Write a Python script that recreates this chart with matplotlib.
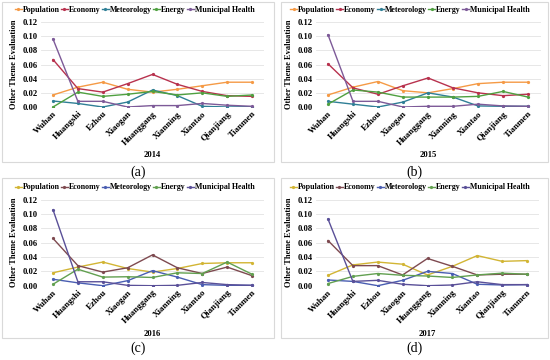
import matplotlib
matplotlib.use("Agg")
import matplotlib.pyplot as plt
from matplotlib.patches import Rectangle

cities = ["Wuhan", "Huangshi", "Ezhou", "Xiaogan", "Huanggang", "Xianning",
          "Xiantao", "Qianjiang", "Tianmen"]
series_names = ["Population", "Economy", "Meteorology", "Energy", "Municipal Health"]
years = ["2014", "2015", "2016", "2017"]
panel_labels = ["(a)", "(b)", "(c)", "(d)"]

population_2014 = [0.017, 0.028, 0.035, 0.025, 0.021, 0.025, 0.030, 0.035, 0.035]
economy_2014 = [0.067, 0.026, 0.021, 0.033, 0.046, 0.032, 0.022, 0.016, 0.015]
meteorology_2014 = [0.0085, 0.005, 0.0, 0.007, 0.024, 0.016, 0.001, 0.0, 0.0005]
energy_2014 = [0.0, 0.021, 0.015, 0.018, 0.022, 0.017, 0.020, 0.015, 0.017]
health_2014 = [0.096, 0.008, 0.008, 0.0, 0.002, 0.002, 0.005, 0.0025, 0.001]

population_2015 = [0.017, 0.028, 0.036, 0.023, 0.020, 0.026, 0.033, 0.035, 0.035]
economy_2015 = [0.061, 0.027, 0.018, 0.030, 0.041, 0.027, 0.020, 0.016, 0.018]
meteorology_2015 = [0.008, 0.004, 0.0, 0.007, 0.020, 0.014, 0.0015, 0.001, 0.001]
energy_2015 = [0.004, 0.024, 0.021, 0.014, 0.014, 0.014, 0.015, 0.022, 0.014]
health_2015 = [0.102, 0.008, 0.008, 0.0, 0.001, 0.001, 0.004, 0.0015, 0.001]

population_2016 = [0.018, 0.026, 0.033, 0.024, 0.019, 0.024, 0.031, 0.032, 0.032]
economy_2016 = [0.066, 0.028, 0.019, 0.025, 0.043, 0.025, 0.017, 0.026, 0.014]
meteorology_2016 = [0.009, 0.004, 0.0, 0.007, 0.021, 0.012, 0.0015, 0.0005, 0.0005]
energy_2016 = [0.002, 0.023, 0.012, 0.0125, 0.0115, 0.018, 0.017, 0.033, 0.016]
health_2016 = [0.106, 0.0055, 0.0055, 0.0005, 0.0, 0.0005, 0.0045, 0.0015, 0.0005]

population_2017 = [0.0145, 0.029, 0.033, 0.030, 0.015, 0.027, 0.042, 0.034, 0.035]
economy_2017 = [0.063, 0.028, 0.028, 0.015, 0.038, 0.027, 0.015, 0.016, 0.016]
meteorology_2017 = [0.008, 0.006, 0.0, 0.0075, 0.020, 0.017, 0.002, 0.001, 0.0015]
energy_2017 = [0.003, 0.013, 0.017, 0.0145, 0.0135, 0.0115, 0.015, 0.0175, 0.016]
health_2017 = [0.093, 0.006, 0.0075, 0.002, 0.0, 0.001, 0.0055, 0.0015, 0.0015]

yticks = [0.00, 0.02, 0.04, 0.06, 0.08, 0.10, 0.12]

data = [
    [population_2014, economy_2014, meteorology_2014, energy_2014, health_2014],
    [population_2015, economy_2015, meteorology_2015, energy_2015, health_2015],
    [population_2016, economy_2016, meteorology_2016, energy_2016, health_2016],
    [population_2017, economy_2017, meteorology_2017, energy_2017, health_2017],
]

colors_top = ["#F59A45", "#B8324E", "#2F7F96", "#4FA040", "#7D5A98"]
colors_bottom = ["#D2B534", "#7E4A50", "#4A5EB2", "#62A050", "#5A5098"]

W, H = 550, 360
fig = plt.figure(figsize=(5.5, 3.6), dpi=100)
fig.patch.set_facecolor("white")

serif = ["Liberation Serif", "DejaVu Serif"]

# (box x0, y0, x1, y1 in pixels from top-left), wuhan px, tianmen px, y0 px, y12 px
panels = [
    (2, 2, 274, 162, 53, 252, 107, 22),
    (281, 2, 548, 162, 328, 528, 107, 22),
    (2, 178, 274, 338, 53, 252, 285.7, 199.7),
    (281, 178, 548, 338, 328, 527, 285.7, 199.7),
]

for i, (bx0, by0, bx1, by1, xw, xt, y0, y12) in enumerate(panels):
    fig.patches.append(Rectangle((bx0 / W, 1 - by1 / H), (bx1 - bx0) / W, (by1 - by0) / H,
                                 transform=fig.transFigure, fill=False,
                                 edgecolor="#D9D9D9", linewidth=0.8))
    step = (xt - xw) / 8
    left = xw - step / 2
    right = xt + step / 2
    ax = fig.add_axes([left / W, 1 - y0 / H, (right - left) / W, (y0 - y12) / H])
    cols = colors_top if i < 2 else colors_bottom
    for name, vals, c in zip(series_names, data[i], cols):
        ax.plot(range(len(cities)), vals, color=c, linewidth=1.0, marker="o",
                markersize=1.3, label=name)
    ax.set_xlim(-0.5, len(cities) - 0.5)
    ax.set_ylim(0, 0.12)
    ax.set_yticks(yticks)
    ax.set_yticklabels([f"{v:.2f}" for v in yticks], fontfamily=serif,
                       fontweight="bold", fontsize=6.2)
    ax.set_xticks(range(len(cities)))
    ax.set_xticklabels(cities, rotation=45, ha="right", rotation_mode="anchor",
                       fontfamily=serif, fontweight="bold", fontsize=6.5)
    ax.tick_params(length=0, pad=2)
    for s in ax.spines.values():
        s.set_visible(False)
    ax.grid(axis="y", color="#E3E3E3", linewidth=0.6)
    ax.set_axisbelow(True)
    ax.set_xlabel(years[i], fontfamily=serif, fontweight="bold", fontsize=6.2, labelpad=3)
    ax.set_ylabel("Other Theme Evaluation", fontfamily=serif, fontweight="bold",
                  fontsize=6.0, labelpad=3)
    ax.legend(loc="lower center", bbox_to_anchor=(0.42, 1.06), ncol=5, frameon=False,
              prop={"family": serif, "weight": "bold", "size": 5.7},
              handlelength=0.9, handletextpad=0.1, columnspacing=0.15,
              borderaxespad=0)
    fig.text(((bx0 + bx1) / 2) / W, 1 - (by1 + 10) / H, panel_labels[i],
             ha="center", va="center", fontfamily=serif, fontsize=10)

fig.savefig("out.png", dpi=100, facecolor="white")
